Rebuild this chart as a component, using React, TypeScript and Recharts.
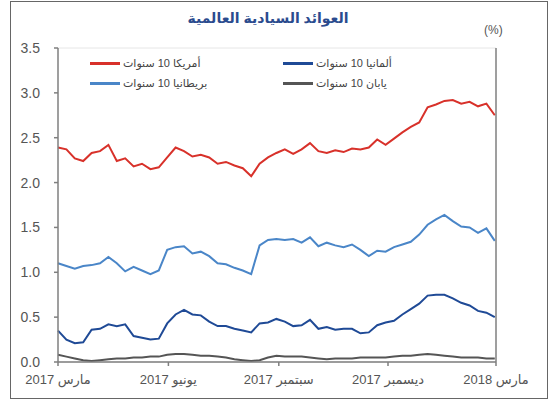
import { LineChart, Line, XAxis, YAxis, CartesianGrid, Legend } from "recharts";

// days since 1 March 2017, one reading per week
const days = [
  0, 7, 14, 21, 28, 35, 42, 49, 56, 63, 70, 77, 84, 91, 98, 105, 112, 119, 126, 133,
  140, 147, 154, 161, 168, 175, 182, 189, 196, 203, 210, 217, 224, 231, 238, 245, 252,
  259, 266, 273, 280, 287, 294, 301, 308, 315, 322, 329, 336, 343, 350, 357, 364,
];

const us10 = [
  2.39, 2.37, 2.27, 2.24, 2.33, 2.35, 2.42, 2.24, 2.27, 2.18, 2.21, 2.15, 2.17, 2.28,
  2.39, 2.35, 2.29, 2.31, 2.28, 2.21, 2.23, 2.19, 2.16, 2.07, 2.21, 2.28, 2.33, 2.37,
  2.32, 2.37, 2.44, 2.35, 2.33, 2.36, 2.34, 2.38, 2.37, 2.39, 2.48, 2.42, 2.49, 2.56,
  2.62, 2.67, 2.84, 2.87, 2.91, 2.92, 2.88, 2.9, 2.85, 2.88, 2.75,
];

const de10 = [
  0.35, 0.25, 0.21, 0.22, 0.36, 0.37, 0.42, 0.4, 0.42, 0.29, 0.27, 0.25, 0.26, 0.43,
  0.53, 0.58, 0.53, 0.52, 0.45, 0.4, 0.4, 0.37, 0.35, 0.33, 0.43, 0.44, 0.48, 0.45,
  0.4, 0.41, 0.47, 0.37, 0.39, 0.36, 0.37, 0.37, 0.32, 0.33, 0.41, 0.44, 0.46, 0.53,
  0.59, 0.65, 0.74, 0.75, 0.75, 0.71, 0.66, 0.63, 0.57, 0.55, 0.5,
];

const uk10 = [
  1.1, 1.07, 1.04, 1.07, 1.08, 1.1, 1.17, 1.1, 1.01, 1.06, 1.02, 0.98, 1.02, 1.25,
  1.28, 1.29, 1.21, 1.23, 1.18, 1.1, 1.09, 1.05, 1.02, 0.98, 1.3, 1.36, 1.37, 1.36,
  1.37, 1.33, 1.39, 1.29, 1.33, 1.3, 1.28, 1.31, 1.25, 1.18, 1.24, 1.23, 1.28, 1.31,
  1.34, 1.42, 1.53, 1.59, 1.64, 1.57, 1.51, 1.5, 1.44, 1.49, 1.35,
];

const jp10 = [
  0.08, 0.06, 0.04, 0.02, 0.01, 0.02, 0.03, 0.04, 0.04, 0.05, 0.05, 0.06, 0.06, 0.08,
  0.09, 0.09, 0.08, 0.07, 0.07, 0.06, 0.05, 0.03, 0.02, 0.01, 0.02, 0.05, 0.07, 0.06,
  0.06, 0.06, 0.05, 0.04, 0.03, 0.04, 0.04, 0.04, 0.05, 0.05, 0.05, 0.05, 0.06, 0.07,
  0.07, 0.08, 0.09, 0.08, 0.07, 0.06, 0.05, 0.05, 0.05, 0.04, 0.04,
];

const xTicks = [0, 92, 184, 275, 365];
const xTickLabels = ["مارس 2017", "يونيو 2017", "سبتمبر 2017", "ديسمبر 2017", "مارس 2018"];
const yTicks = [0, 0.5, 1, 1.5, 2, 2.5, 3, 3.5];

// legend reads row by row: US | Germany, then UK | Japan
const series = [
  { key: "us", name: "أمريكا 10 سنوات", color: "#d8312a" },
  { key: "de", name: "ألمانيا 10 سنوات", color: "#1f4a96" },
  { key: "uk", name: "بريطانيا 10 سنوات", color: "#4a86c8" },
  { key: "jp", name: "يابان 10 سنوات", color: "#555555" },
];

const rows = days.map((d, i) => ({
  day: d,
  us: us10[i],
  de: de10[i],
  uk: uk10[i],
  jp: jp10[i],
}));

const font = "'Liberation Sans', Arial, 'DejaVu Sans', sans-serif";
const axisGray = "#7f7f7f";
const tickStyle = { fill: "#555", fontSize: 14, fontFamily: font };

function LegendBox() {
  return (
    <div
      style={{
        display: "grid",
        gridTemplateColumns: "193px 150px",
        rowGap: 6,
        fontFamily: font,
        fontSize: 11,
        color: "#444",
      }}
    >
      {series.map((s) => (
        <div key={s.key} style={{ display: "flex", alignItems: "center", height: 14 }}>
          <span style={{ width: 30, height: 3, background: s.color, marginRight: 3 }} />
          <span dir="rtl">{s.name}</span>
        </div>
      ))}
    </div>
  );
}

export default function App() {
  return (
    <div
      style={{
        position: "absolute",
        left: 0,
        top: 0,
        width: 552,
        height: 403,
        background: "#fff",
        fontFamily: font,
      }}
    >
      <div
        style={{
          position: "absolute",
          left: 10,
          top: 1,
          width: 536,
          height: 396,
          border: "1.5px solid #666",
        }}
      />
      <div
        dir="rtl"
        style={{
          position: "absolute",
          left: 168,
          width: 200,
          top: 10,
          textAlign: "center",
          fontSize: 14,
          fontWeight: "bold",
          color: "#2b4b8e",
        }}
      >
        العوائد السيادية العالمية
      </div>
      <div style={{ position: "absolute", left: 484, top: 23, fontSize: 12, color: "#555" }}>
        (%)
      </div>
      <div style={{ position: "absolute", left: 0, top: 0 }}>
        <LineChart
          width={552}
          height={403}
          data={rows}
          margin={{ top: 48, right: 16, bottom: 11, left: 18 }}
        >
          <CartesianGrid vertical={false} stroke="#e6e6e6" strokeWidth={1} />
          <XAxis
            dataKey="day"
            type="number"
            domain={[0, 365]}
            ticks={xTicks}
            tickFormatter={(v: number) => xTickLabels[xTicks.indexOf(v)]}
            tick={{ ...tickStyle, fontSize: 13 }}
            tickSize={4}
            tickMargin={9}
            height={30}
            stroke={axisGray}
            strokeWidth={1.5}
            interval={0}
          />
          <YAxis
            yAxisId="left"
            domain={[0, 3.5]}
            ticks={yTicks}
            tickFormatter={(v: number) => v.toFixed(1)}
            tick={tickStyle}
            tickSize={4}
            tickMargin={14}
            width={40}
            stroke={axisGray}
            strokeWidth={1.5}
            interval={0}
          />
          <YAxis
            yAxisId="right"
            orientation="right"
            domain={[0, 3.5]}
            ticks={yTicks}
            tickFormatter={(v: number) => v.toFixed(1)}
            tick={tickStyle}
            tickSize={4}
            tickMargin={12}
            width={40}
            stroke={axisGray}
            strokeWidth={1.5}
            interval={0}
          />
          <Legend
            content={<LegendBox />}
            layout="horizontal"
            verticalAlign="middle"
            wrapperStyle={{ left: 90, top: 56, width: 360 }}
          />
          {series.map((s) => (
            <Line
              key={s.key}
              yAxisId="left"
              dataKey={s.key}
              name={s.name}
              stroke={s.color}
              strokeWidth={2}
              dot={false}
              type="linear"
              isAnimationActive={false}
            />
          ))}
        </LineChart>
      </div>
    </div>
  );
}
